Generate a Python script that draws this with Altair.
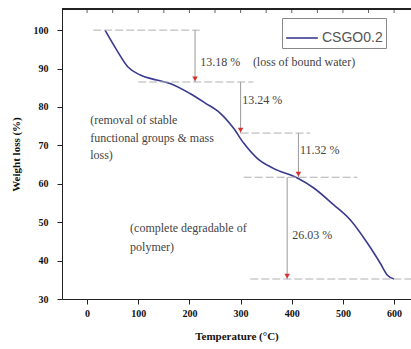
import altair as alt
import pandas as pd

# TGA curve
temperature = [35, 58, 80, 104, 136, 162, 201, 231, 260, 286, 306, 332, 364, 411, 443, 482, 515, 548, 573, 587, 600]
weight = [100, 94.8, 90.4, 88.3, 87.0, 86.1, 83.5, 81.0, 78.4, 74.5, 70.6, 66.7, 64.0, 61.5, 58.9, 54.5, 50.5, 44.5, 39.3, 36.2, 35.2]
series_name = "CSGO0.2"

# horizontal guide lines
h_level = [100, 86.5, 73.2, 61.7, 35.2]
h_from = [12, 100, 300, 306, 319]
h_to = [220, 325, 436, 528, 633]

# vertical arrows
v_temp = [211, 300, 413, 391]
v_top = [100, 86.5, 73.2, 61.7]
v_bottom = [86.5, 73.2, 61.7, 35.2]

# annotations
note_text = ["13.18 %", "(loss of bound water)", "13.24 %", "11.32 %", "26.03 %",
             "(removal of stable", "functional groups & mass", "loss)",
             "(complete degradable of", "polymer)"]
note_temp = [221, 324, 303, 416, 401, 6, 6, 6, 84, 84]
note_weight = [91.7, 91.7, 81.8, 68.8, 46.7, 76.6, 71.9, 67.5, 48.5, 43.5]

x_ticks = list(range(0, 650, 50))
y_ticks = list(range(30, 106, 5))

curve_df = pd.DataFrame({"T": temperature, "W": weight, "s": [series_name] * len(temperature)})
h_df = pd.DataFrame({"y": h_level, "x1": h_from, "x2": h_to})
v_df = pd.DataFrame({"x": v_temp, "y1": v_top, "y2": v_bottom})
n_df = pd.DataFrame({"t": note_text, "x": note_temp, "y": note_weight})
t_df = pd.DataFrame({"v": x_ticks})

xs = alt.Scale(domain=[-49, 633], nice=False, zero=False)
ys = alt.Scale(domain=[30, 105.5], nice=False, zero=False)

serif = "Liberation Serif"

curve = alt.Chart(curve_df).mark_line(interpolate="monotone", strokeWidth=1.6).encode(
    x=alt.X("T:Q", scale=xs, axis=alt.Axis(
        orient="bottom", values=x_ticks, title="Temperature (°C)",
        labelExpr="datum.value % 100 === 0 ? datum.label : ''",
        ticks=True, tickSize=5,
        labelFont=serif, labelFontWeight="bold", labelFontSize=10, labelColor="#111",
        titleFont=serif, titleFontWeight="bold", titleFontSize=11, titleColor="#111",
        labelPadding=4, titlePadding=12, domainColor="#222", tickColor="#222", grid=False)),
    y=alt.Y("W:Q", scale=ys, axis=alt.Axis(
        orient="left", values=y_ticks, title="Weight loss (%)",
        labelExpr="datum.value % 10 === 0 ? datum.label : ''",
        ticks=True, tickSize=5,
        labelFont=serif, labelFontWeight="bold", labelFontSize=10, labelColor="#111",
        titleFont=serif, titleFontWeight="bold", titleFontSize=11, titleColor="#111",
        labelPadding=9, titlePadding=12, domainColor="#222", tickColor="#222", grid=False)),
    color=alt.Color("s:N", scale=alt.Scale(range=["#3a3a90"]), legend=alt.Legend(
        orient="none", legendX=220, legendY=9, title=None,
        symbolType="stroke", symbolSize=1000, symbolStrokeWidth=1.6,
        labelFont="Liberation Sans", labelFontSize=14, labelColor="#555",
        strokeColor="#888", padding=3, labelOffset=3)),
)

hlines = alt.Chart(h_df).mark_rule(color="#b0b0b0", strokeWidth=1, strokeDash=[8, 3]).encode(
    x=alt.X("x1:Q", scale=xs),
    x2="x2:Q",
    y=alt.Y("y:Q", scale=ys),
)

vlines = alt.Chart(v_df).mark_rule(color="#9a9a9a", strokeWidth=1).encode(
    x=alt.X("x:Q", scale=xs),
    y=alt.Y("y1:Q", scale=ys),
    y2="y2:Q",
)

arrows = alt.Chart(v_df).mark_point(shape="triangle-down", filled=True, color="#d83030",
                                    size=30, opacity=1, yOffset=-3).encode(
    x=alt.X("x:Q", scale=xs),
    y=alt.Y("y2:Q", scale=ys),
)

notes = alt.Chart(n_df).mark_text(align="left", baseline="middle", font=serif,
                                  fontSize=12, color="#444").encode(
    x=alt.X("x:Q", scale=xs),
    y=alt.Y("y:Q", scale=ys),
    text="t:N",
)

# top frame line with inward ticks
top_line = alt.Chart(t_df).mark_rule(color="#222", strokeWidth=1).encode(
    x=alt.value(0), x2=alt.value({"expr": "width"}), y=alt.value(0),
)
top_ticks = alt.Chart(t_df).mark_tick(color="#222", thickness=1, size=4).encode(
    x=alt.X("v:Q", scale=xs),
    y=alt.value(2),
)

chart = alt.layer(curve, hlines, vlines, arrows, notes, top_line, top_ticks).properties(
    width=349, height=290, autosize="none",
    padding={"left": 62, "top": 9, "right": 0, "bottom": 50},
).configure_view(stroke=None)

chart.save("out.html", embed_options={"renderer": "svg", "actions": False})
